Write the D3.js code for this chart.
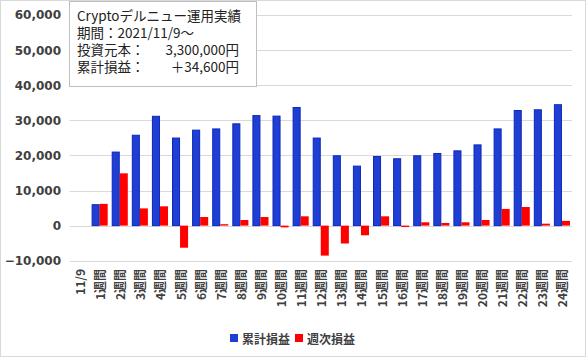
<!DOCTYPE html>
<html><head><meta charset="utf-8">
<script src="https://cdn.jsdelivr.net/npm/d3@7"></script>
<style>body{margin:0;background:#fff}svg{display:block}</style>
</head><body>
<svg id="c" width="586" height="357"></svg>
<script>
const categories = ["11/9","1週間","2週間","3週間","4週間","5週間","6週間","7週間","8週間","9週間","10週間","11週間","12週間","13週間","14週間","15週間","16週間","17週間","18週間","19週間","20週間","21週間","22週間","23週間","24週間"];
const cumulative = [null,6100,21100,25900,31300,25100,27350,27700,29150,31500,31350,33800,25100,20050,17100,19850,19200,20050,20700,21450,23150,27700,32950,33150,34600];
const weekly = [null,6200,14900,4900,5500,-6300,2450,400,1600,2450,-500,2650,-8550,-5100,-2750,2650,-400,950,750,950,1600,4750,5300,550,1350];
const seriesNames = ["累計損益","週次損益"];
const seriesColors = ["#1f3fd4","#ff0000"];
const yTicks = [-10000,0,10000,20000,30000,40000,50000,60000];
const infoLines = [["Cryptoデルニュー運用実績",""],["期間：2021/11/9～",""],["投資元本：","3,300,000円"],["累計損益：","＋34,600円"]];

const svg = d3.select("#c");
svg.append("rect").attr("x",0.5).attr("y",0.5).attr("width",585).attr("height",356)
  .attr("fill","#fff").attr("stroke","#d9d9d9");

const x0 = d3.scaleBand().domain(categories).range([69.5,572]).paddingInner(0.2).paddingOuter(0.1);
const x1 = d3.scaleBand().domain([0,1]).range([0,x0.bandwidth()]);
const y = d3.scaleLinear().domain([-10000,60000]).range([260.7,15.1]);

// gridlines
svg.append("g").selectAll("line").data(yTicks).join("line")
  .attr("x1",69.5).attr("x2",572).attr("y1",d=>Math.round(y(d))+0.5).attr("y2",d=>Math.round(y(d))+0.5)
  .attr("stroke","#d9d9d9").attr("stroke-width",1);

// y axis labels
const yAxis = d3.axisLeft(y).tickValues(yTicks).tickFormat(d3.format(",")).tickSize(0).tickPadding(8);
const ya = svg.append("g").attr("transform","translate(69,0)").call(yAxis);
ya.select(".domain").remove();
ya.selectAll("text").attr("font-family","DejaVu Sans, Verdana, sans-serif").attr("font-weight","bold")
  .attr("font-size","12px").attr("fill","#404040");

// bars
const data = categories.map((c,i)=>({c, v:[cumulative[i],weekly[i]]}));
const g = svg.append("g");
data.forEach(d=>{
  d.v.forEach((v,k)=>{
    if(v===null) return;
    const r = g.append("rect")
      .attr("x",x0(d.c)+x1(k)).attr("width",x1.bandwidth())
      .attr("y",y(Math.max(0,v))).attr("height",Math.abs(y(v)-y(0)))
      .attr("fill",seriesColors[k]);
    if(k===0) r.attr("stroke","#0b27b8").attr("stroke-width",1)
      .attr("x",x0(d.c)+x1(k)+0.5).attr("width",x1.bandwidth()-1)
      .attr("y",y(Math.max(0,v))+0.5).attr("height",Math.abs(y(v)-y(0))-0.5);
  });
});

// x labels
const xa = svg.append("g");
categories.forEach(c=>{
  const cx = x0(c)+x0.bandwidth()/2;
  xa.append("text").attr("transform",`translate(${cx},269) rotate(-90)`)
    .attr("text-anchor","end").attr("dominant-baseline","central")
    .attr("font-family","Noto Sans CJK JP, sans-serif").attr("font-weight","bold")
    .attr("font-size","12px").attr("fill","#404040").text(c);
});

// legend
const lg = svg.append("g");
const legX = [230,295];
seriesNames.forEach((n,k)=>{
  lg.append("rect").attr("x",legX[k]).attr("y",334).attr("width",8).attr("height",8).attr("fill",seriesColors[k]);
  lg.append("text").attr("x",legX[k]+12).attr("y",338).attr("dominant-baseline","central")
    .attr("font-family","Noto Sans CJK JP, sans-serif").attr("font-weight","bold")
    .attr("font-size","12px").attr("fill","#404040").text(n);
});

// info box
const ib = svg.append("g");
ib.append("rect").attr("x",69.5).attr("y",1.5).attr("width",187).attr("height",85)
  .attr("fill","#fff").attr("stroke","#bfbfbf");
const it = ib.append("text")
  .attr("font-family","Noto Sans CJK JP, sans-serif").attr("font-size","13.5px").attr("fill","#222");
infoLines.forEach((ln,i)=>{
  const yy = 15+i*17;
  it.append("tspan").attr("x",77).attr("y",yy).attr("dominant-baseline","central").text(ln[0]);
  if(ln[1]) it.append("tspan").attr("x",239).attr("y",yy).attr("dominant-baseline","central")
    .attr("text-anchor","end").text(ln[1]);
});
</script>
</body></html>
